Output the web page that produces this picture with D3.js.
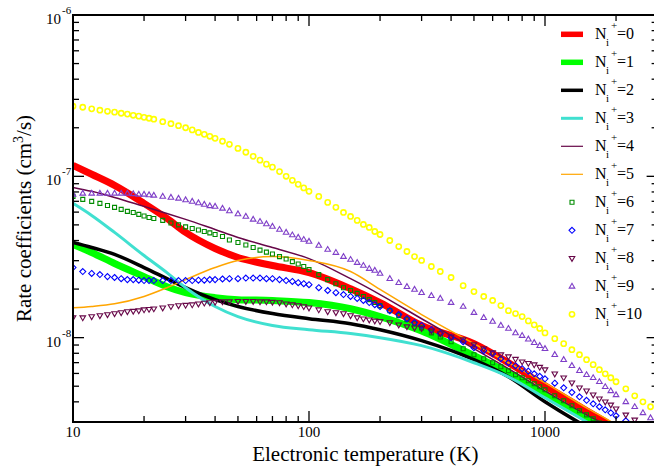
<!DOCTYPE html>
<html><head><meta charset="utf-8">
<script src="https://cdn.jsdelivr.net/npm/d3@7"></script>
<style>
body{margin:0;background:#fff}
svg{display:block}
text{font-family:"Liberation Serif",serif;fill:#000}
</style>
</head><body>
<svg id="c" width="654" height="466" font-family="Liberation Serif"></svg>
<script>
// ---- data ----
const T_LINE = [10,12,15,20,25,30,40,50,70,100,150,200,300,500,700,1000,1500,2000,3000];
const n0 = [1.17e-7,1.03e-7,8.79e-8,6.80e-8,5.48e-8,4.49e-8,3.57e-8,3.14e-8,2.80e-8,2.53e-8,2.01e-8,1.65e-8,1.19e-8,9.18e-9,6.99e-9,5.03e-9,3.52e-9,2.72e-9,1.60e-9];
const n1 = [3.78e-8,3.37e-8,2.88e-8,2.39e-8,2.07e-8,1.90e-8,1.77e-8,1.72e-8,1.70e-8,1.65e-8,1.51e-8,1.35e-8,1.10e-8,7.73e-9,6.06e-9,4.42e-9,3.14e-9,2.43e-9,1.39e-9];
const n2 = [3.89e-8,3.62e-8,3.28e-8,2.72e-8,2.32e-8,2.04e-8,1.72e-8,1.56e-8,1.41e-8,1.31e-8,1.22e-8,1.12e-8,9.58e-9,7.30e-9,5.72e-9,4.00e-9,2.80e-9,2.23e-9,1.31e-9];
const n3 = [6.80e-8,5.72e-8,4.49e-8,3.23e-8,2.53e-8,2.04e-8,1.56e-8,1.35e-8,1.19e-8,1.12e-8,1.06e-8,1.00e-8,8.92e-9,6.99e-9,5.72e-9,4.24e-9,3.01e-9,2.32e-9,1.33e-9];
const n4 = [8.54e-8,8.07e-8,7.40e-8,6.51e-8,5.89e-8,5.41e-8,4.68e-8,4.18e-8,3.62e-8,3.09e-8,2.32e-8,1.85e-8,1.31e-8,8.54e-9,6.42e-9,4.68e-9,3.32e-9,2.64e-9,1.67e-9];
const n5 = [1.53e-8,1.56e-8,1.62e-8,1.80e-8,2.04e-8,2.29e-8,2.72e-8,3.01e-8,3.18e-8,3.01e-8,2.57e-8,1.99e-8,1.39e-8,9.18e-9,6.99e-9,5.25e-9,3.67e-9,2.88e-9,1.77e-9];

const T_MARK = [10,11,12,13,14,15,16,17,18,19,20,21,22,24,26,28,30,32,34,36,38,40,43,46,50,54,58,62,66,70,75,80,85,90,95,100,
  110,120,130,140,150,160,170,180,190,200,220,240,260,280,300,330,360,400,450,500,
  550,600,650,700,750,800,850,900,950,1000,1100,1200,1300,1400,1500,1600,1700,1800,1900,2000,2200,2400,2600,2800,3000];
const n6 = [7.51e-8,7.20e-8,6.99e-8,6.80e-8,6.60e-8,6.42e-8,6.24e-8,6.06e-8,5.97e-8,5.81e-8,5.68e-8,5.56e-8,5.48e-8,
  5.33e-8,5.14e-8,5.00e-8,4.86e-8,4.75e-8,4.65e-8,4.55e-8,4.46e-8,4.36e-8,
  4.24e-8,4.03e-8,3.89e-8,3.75e-8,3.62e-8,3.49e-8,3.39e-8,3.30e-8,3.18e-8,3.07e-8,2.96e-8,2.86e-8,2.76e-8,2.64e-8,
  2.46e-8,2.29e-8,2.16e-8,2.04e-8,1.96e-8,1.88e-8,1.80e-8,1.72e-8,1.65e-8,1.58e-8,1.47e-8,1.37e-8,1.29e-8,1.22e-8,1.15e-8,1.07e-8,1.01e-8,9.44e-9,8.54e-9,7.84e-9,
  7.40e-9,6.99e-9,6.60e-9,6.24e-9,5.89e-9,5.64e-9,5.41e-9,5.18e-9,4.96e-9,4.75e-9,4.36e-9,4.06e-9,3.78e-9,3.52e-9,3.32e-9,3.14e-9,2.96e-9,2.80e-9,2.64e-9,2.53e-9,2.29e-9,2.10e-9,1.93e-9,1.80e-9,1.67e-9];
const n7 = [2.72e-8,2.57e-8,2.50e-8,2.46e-8,2.39e-8,2.36e-8,2.32e-8,2.29e-8,2.29e-8,2.27e-8,2.26e-8,2.26e-8,2.26e-8,
  2.26e-8,2.26e-8,2.26e-8,2.26e-8,2.26e-8,2.27e-8,2.27e-8,2.29e-8,2.29e-8,
  2.31e-8,2.32e-8,2.32e-8,2.34e-8,2.34e-8,2.34e-8,2.32e-8,2.32e-8,2.29e-8,2.26e-8,2.23e-8,2.19e-8,2.16e-8,2.13e-8,
  2.04e-8,1.96e-8,1.90e-8,1.85e-8,1.80e-8,1.75e-8,1.70e-8,1.65e-8,1.60e-8,1.56e-8,1.47e-8,1.39e-8,1.31e-8,1.24e-8,1.19e-8,1.12e-8,1.06e-8,1.00e-8,9.44e-9,8.67e-9,
  8.30e-9,7.95e-9,7.40e-9,6.99e-9,6.70e-9,6.42e-9,6.20e-9,5.97e-9,5.76e-9,5.56e-9,5.22e-9,4.89e-9,4.58e-9,4.30e-9,4.09e-9,3.89e-9,3.73e-9,3.57e-9,3.42e-9,3.28e-9,3.05e-9,2.84e-9,2.64e-9,2.50e-9,2.36e-9];
const n8 = [1.33e-8,1.33e-8,1.35e-8,1.37e-8,1.39e-8,1.41e-8,1.43e-8,1.45e-8,1.46e-8,1.47e-8,1.49e-8,1.50e-8,1.51e-8,
  1.53e-8,1.56e-8,1.58e-8,1.59e-8,1.60e-8,1.62e-8,1.64e-8,1.65e-8,1.66e-8,
  1.67e-8,1.67e-8,1.68e-8,1.68e-8,1.68e-8,1.67e-8,1.67e-8,1.66e-8,1.65e-8,1.62e-8,1.60e-8,1.58e-8,1.56e-8,1.53e-8,
  1.49e-8,1.45e-8,1.43e-8,1.41e-8,1.37e-8,1.33e-8,1.31e-8,1.29e-8,1.27e-8,1.26e-8,1.24e-8,1.20e-8,1.17e-8,1.15e-8,1.14e-8,1.10e-8,1.06e-8,1.01e-8,9.72e-9,9.05e-9,
  8.54e-9,8.07e-9,7.84e-9,7.62e-9,7.35e-9,7.09e-9,6.94e-9,6.80e-9,6.56e-9,6.33e-9,5.97e-9,5.64e-9,5.25e-9,4.89e-9,4.68e-9,4.42e-9,4.18e-9,4.00e-9,3.83e-9,3.62e-9,3.32e-9,3.09e-9,2.88e-9,2.72e-9,2.57e-9];
const n9 = [7.73e-8,7.84e-8,7.84e-8,7.84e-8,7.84e-8,7.84e-8,7.84e-8,7.84e-8,7.79e-8,7.73e-8,7.73e-8,7.67e-8,7.62e-8,
  7.51e-8,7.40e-8,7.30e-8,7.14e-8,6.99e-8,6.84e-8,6.70e-8,6.56e-8,6.51e-8,
  6.33e-8,6.10e-8,5.85e-8,5.64e-8,5.41e-8,5.25e-8,5.07e-8,4.89e-8,4.68e-8,4.49e-8,4.33e-8,4.18e-8,4.06e-8,3.95e-8,
  3.73e-8,3.52e-8,3.37e-8,3.18e-8,3.05e-8,2.92e-8,2.80e-8,2.68e-8,2.61e-8,2.50e-8,2.32e-8,2.19e-8,2.07e-8,1.99e-8,1.90e-8,1.82e-8,1.75e-8,1.65e-8,1.56e-8,1.43e-8,
  1.33e-8,1.26e-8,1.19e-8,1.14e-8,1.07e-8,1.03e-8,9.79e-9,9.31e-9,8.92e-9,8.54e-9,7.84e-9,7.30e-9,6.70e-9,6.24e-9,5.89e-9,5.64e-9,5.33e-9,4.96e-9,4.68e-9,4.42e-9,4.00e-9,3.73e-9,3.42e-9,3.18e-9,3.05e-9];
const n10 = [2.72e-7,2.68e-7,2.62e-7,2.57e-7,2.53e-7,2.50e-7,2.46e-7,2.43e-7,2.39e-7,2.36e-7,2.32e-7,2.29e-7,2.26e-7,
  2.18e-7,2.12e-7,2.06e-7,2.00e-7,1.94e-7,1.87e-7,1.82e-7,1.77e-7,1.72e-7,
  1.65e-7,1.58e-7,1.49e-7,1.41e-7,1.33e-7,1.26e-7,1.19e-7,1.14e-7,1.07e-7,1.00e-7,9.44e-8,8.92e-8,8.48e-8,8.07e-8,
  7.51e-8,6.89e-8,6.42e-8,5.97e-8,5.64e-8,5.33e-8,5.03e-8,4.82e-8,4.55e-8,4.36e-8,4.00e-8,3.67e-8,3.42e-8,3.18e-8,3.01e-8,2.76e-8,2.57e-8,2.36e-8,2.10e-8,1.93e-8,
  1.80e-8,1.70e-8,1.58e-8,1.47e-8,1.41e-8,1.35e-8,1.27e-8,1.20e-8,1.14e-8,1.07e-8,9.86e-9,9.18e-9,8.42e-9,7.84e-9,7.30e-9,6.80e-9,6.33e-9,5.97e-9,5.64e-9,5.33e-9,4.82e-9,4.36e-9,4.00e-9,3.73e-9,3.47e-9];

const LABELS = ["0","1","2","3","4","5","6","7","8","9","10"];
const X_TICK_LABELS = ["10","100","1000"];
const Y_TICK_EXPONENTS = ["-6","-7","-8"];
const X_TITLE = "Electronic temperature (K)";

// ---- layout ----
const FONT = "Liberation Serif";
const svg = d3.select("#c");
const L = 73, R = 657.6, TOP = 15, BOT = 422;
const x = d3.scaleLog().domain([10, 3000]).range([L, R]);
const y = d3.scaleLog().domain([3e-9, 1e-6]).range([BOT, TOP]);

svg.append("defs").append("clipPath").attr("id","clip")
  .append("rect").attr("x",L).attr("y",TOP).attr("width",R-L).attr("height",BOT-TOP);

const lineSeries = [
  {v:n0, color:"#ff0000", w:7},
  {v:n1, color:"#00ff00", w:7},
  {v:n2, color:"#000000", w:3.5},
  {v:n3, color:"#40e0d0", w:3},
  {v:n4, color:"#670748", w:1.5},
  {v:n5, color:"#ffa500", w:1.5}
];
const markSeries = [
  {v:n6, color:"#008b00", shape:"square", sw:1.1},
  {v:n7, color:"#0000ff", shape:"diamond", sw:1.1},
  {v:n8, color:"#670748", shape:"tdown", sw:1.1},
  {v:n9, color:"#7f3fc8", shape:"tup", sw:1.1},
  {v:n10, color:"#ffff00", shape:"circle", sw:1.6}
];

function shapePath(shape) {
  switch (shape) {
    case "square": return "M-2,-2H2V2H-2Z";
    case "diamond": return "M0,-3L3,0L0,3L-3,0Z";
    case "tdown": return "M-2.8,-1.8H2.8L0,3Z";
    case "tup": return "M-2.8,1.8H2.8L0,-3Z";
    case "circle": return "M2.6,0A2.6,2.6 0 1,1 -2.6,0A2.6,2.6 0 1,1 2.6,0Z";
  }
}

const plot = svg.append("g").attr("clip-path","url(#clip)");
const line = d3.line().x(d=>x(d[0])).y(d=>y(d[1])).curve(d3.curveMonotoneX);

lineSeries.forEach(s => {
  plot.append("path")
    .datum(T_LINE.map((t,i)=>[t, s.v[i]]))
    .attr("d", line).attr("fill","none")
    .attr("stroke", s.color).attr("stroke-width", s.w)
    .attr("stroke-linejoin","round");
});
markSeries.forEach(s => {
  plot.append("g").selectAll("path")
    .data(T_MARK.map((t,i)=>[t, s.v[i]]))
    .join("path")
    .attr("transform", d=>`translate(${x(d[0])},${y(d[1])})`)
    .attr("d", shapePath(s.shape))
    .attr("fill","none").attr("stroke", s.color)
    .attr("stroke-width", s.sw);
});

// ---- axes / frame ----
const ax = svg.append("g");
const xt = x.ticks().filter(t => t>=10 && t<=3000);
const yt = y.ticks().filter(t => t>=3e-9*0.999 && t<=1e-6*1.001);
const isMajor = v => Math.abs(Math.log10(v) - Math.round(Math.log10(v))) < 1e-6;

xt.forEach(t => {
  const len = isMajor(t) ? 11 : 6;
  const px = x(t);
  ax.append("line").attr("x1",px).attr("x2",px).attr("y1",BOT).attr("y2",BOT-len).attr("stroke","#000").attr("stroke-width",1.3);
  ax.append("line").attr("x1",px).attr("x2",px).attr("y1",TOP).attr("y2",TOP+len).attr("stroke","#000").attr("stroke-width",1.3);
});
yt.forEach(t => {
  const len = isMajor(t) ? 11 : 6;
  const py = y(t);
  ax.append("line").attr("x1",L).attr("x2",L+len).attr("y1",py).attr("y2",py).attr("stroke","#000").attr("stroke-width",1.3);
  ax.append("line").attr("x1",R).attr("x2",R-len).attr("y1",py).attr("y2",py).attr("stroke","#000").attr("stroke-width",1.3);
});
ax.append("rect").attr("x",L).attr("y",TOP).attr("width",R-L).attr("height",BOT-TOP)
  .attr("fill","none").attr("stroke","#000").attr("stroke-width",2);

function txt(xp, yp, size, s, anchor) {
  return svg.append("text").attr("x", xp).attr("y", yp).attr("font-family", FONT)
    .attr("font-size", size).attr("text-anchor", anchor || "start").text(s);
}

// x tick labels
[10,100,1000].forEach((t,i) => txt(x(t), 437, 15, X_TICK_LABELS[i], "middle"));
// y tick labels
[1e-6,1e-7,1e-8].forEach((t,i) => {
  const py = y(t);
  txt(61, py+9, 15, "10", "end");
  txt(62, py-1, 11, Y_TICK_EXPONENTS[i], "start");
});

// axis titles
txt((L+R)/2, 461, 21, X_TITLE, "middle");
const ytl = svg.append("text").attr("transform",`translate(31,${(TOP+BOT)/2}) rotate(-90)`)
  .attr("text-anchor","middle").attr("font-family", FONT).attr("font-size",21);
ytl.append("tspan").text("Rate coefficients (cm");
ytl.append("tspan").attr("font-size",14).attr("dy",-8).text("3");
ytl.append("tspan").attr("dy",8).text("/s)");

// ---- legend ----
const leg = svg.append("g");
LABELS.forEach((lab, i) => {
  const cy = 34.3 + i*28;
  if (i < lineSeries.length) {
    const s = lineSeries[i];
    leg.append("line").attr("x1",561).attr("x2",583).attr("y1",cy).attr("y2",cy)
      .attr("stroke",s.color).attr("stroke-width", s.w > 2 ? Math.min(s.w,5.5) : 1.2);
  } else {
    const s = markSeries[i - lineSeries.length];
    leg.append("path").attr("transform",`translate(572,${cy})`).attr("d",shapePath(s.shape))
      .attr("fill","none").attr("stroke",s.color).attr("stroke-width", s.sw);
  }
  txt(595, cy+5, 16, "N");
  txt(606, cy+12, 11, "i");
  txt(611, cy-5, 11, "+");
  txt(617, cy+5, 16, "=" + lab);
});
</script>
</body></html>
